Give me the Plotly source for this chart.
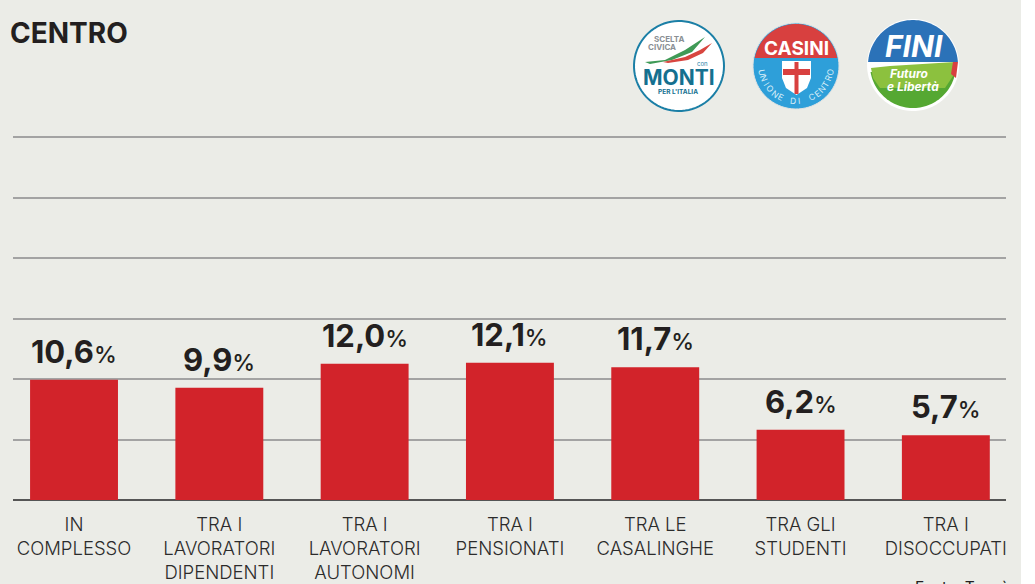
import numpy as np
import plotly.graph_objects as go

W, H = 1035, 584
categories = ["IN<br>COMPLESSO", "TRA I<br>LAVORATORI<br>DIPENDENTI", "TRA I<br>LAVORATORI<br>AUTONOMI",
              "TRA I<br>PENSIONATI", "TRA LE<br>CASALINGHE", "TRA GLI<br>STUDENTI", "TRA I<br>DISOCCUPATI"]
values = [10.6, 9.9, 12.0, 12.1, 11.7, 6.2, 5.7]
title_text = "CENTRO"
source_text = "Fonte: Tecnè"

BG = "#ebece7"
RED = "#d2232a"
FONT = "Inter"
PX_PER_UNIT = 11.35

def px(x): return x / W
def py(y): return 1 - y / H

fig = go.Figure(go.Bar(x=list(range(len(values))), y=values, marker=dict(color=RED, line_width=0),
                       width=0.605, hoverinfo="skip"))

for i, v in enumerate(values):
    lab = f"{v:.1f}".replace(".", ",")
    fig.add_annotation(x=i, y=v, xref="x", yref="y", yanchor="bottom", showarrow=False, yshift=8,
                       text=f"<b>{lab}</b><span style='font-size:23px;font-weight:500'>%</span>",
                       font=dict(family=FONT, size=31, color="#231f20"))

shapes, ann = [], []

def poly(pts, fill, line=None, lw=0):
    d = "M" + "L".join(f"{px(x):.5f},{py(y):.5f}" for x, y in pts) + "Z"
    shapes.append(dict(type="path", path=d, xref="paper", yref="paper", fillcolor=fill,
                       line=dict(color=line or fill, width=lw), layer="above"))

def disc(cx, cy, r, fill, line=None, lw=0):
    t = np.linspace(0, 2 * np.pi, 80)
    poly(list(zip(cx + r * np.cos(t), cy + r * np.sin(t))), fill, line, lw)

def cap(cx, cy, r, ycut, fill, upper=True):
    a = np.arcsin(np.clip((ycut - cy) / r, -1, 1))
    if upper:
        t = np.linspace(np.pi - a, 2 * np.pi + a, 60)
    else:
        t = np.linspace(a, np.pi - a, 60)
    poly(list(zip(cx + r * np.cos(t), cy + r * np.sin(t))), fill)

def txt(x, y, s, size, color, bold=False, italic=False, angle=0, anchor="center", fam=FONT):
    if bold: s = f"<b>{s}</b>"
    if italic: s = f"<i>{s}</i>"
    ann.append(dict(x=px(x), y=py(y), xref="paper", yref="paper", text=s, showarrow=False, textangle=angle,
                    xanchor=anchor, yanchor="middle", font=dict(family=fam, size=size, color=color)))

# white strip at the right edge of the page
shapes.append(dict(type="rect", xref="paper", yref="paper", x0=px(1021), x1=1, y0=0, y1=1,
                   fillcolor="white", line_width=0, layer="above"))

# Logo 1: Scelta Civica con Monti
cx, cy = 679, 66
disc(cx, cy, 45, "white", "#1b7fa6", 2)
poly([(645, 62), (665, 60), (685, 50), (705, 37), (692, 52), (672, 60), (650, 64)], "#3f9a56")
poly([(663, 62), (685, 57), (700, 50), (712, 43), (703, 53), (688, 60), (668, 63)], "#d8453f")
txt(669, 39, "SCELTA", 8, "#8a8f94", bold=True)
txt(662, 47, "CIVICA", 8, "#8a8f94", bold=True)
txt(702, 63, "con", 6, "#1b7fa6")
txt(679, 77, "MONTI", 21, "#15708f", bold=True)
txt(678, 92, "PER L'ITALIA", 6.5, "#15708f", bold=True)

# Logo 2: Casini UDC
cx, cy = 796, 66
disc(cx, cy, 43, "#2e9fd9", "#dfe3e3", 1)
cap(cx, cy, 42, 58, "#d8403f")
txt(cx, 48, "CASINI", 19, "white", bold=True)
sh = [(782, 61), (811, 61), (811, 78), (807, 88), (796.5, 95), (786, 88), (782, 78)]
poly(sh, "white")
poly([(794.5, 62), (798.5, 62), (798.5, 94), (794.5, 94)], "#d8403f")
poly([(783, 69), (810, 69), (810, 75), (783, 75)], "#d8403f")
letters = "UNIONE DI CENTRO"
angs = np.linspace(170, 10, len(letters))
for ch, a in zip(letters, angs):
    r = 35
    x = cx + r * np.cos(np.radians(a))
    y = cy + r * np.sin(np.radians(a))
    if ch != " ":
        txt(x, y, ch, 8.5, "#d9eef8", angle=a - 90)

# Logo 3: Futuro e Liberta
cx, cy = 913, 65
disc(cx, cy, 46, "white")
cap(cx, cy, 45, 62, "#2b72b8")
cap(cx, cy, 43, 72, "#55a832", upper=False)
poly([(871, 68), (890, 66), (955, 62), (953, 76), (945, 88), (880, 88), (873, 78)], "#8cc13e")
poly([(953, 62), (958, 62), (956, 78), (951, 74)], "#d8403f")
txt(cx + 1, 46, "FINI", 30, "white", bold=True, italic=True)
txt(909, 74, "Futuro", 12, "white", bold=True, italic=True)
txt(913, 86, "e Libertà", 12, "white", bold=True, italic=True)

# Title and source
txt(8, 33, title_text, 28, "#231f20", bold=True, anchor="left")
ann.append(dict(x=px(913), y=py(576), xref="paper", yref="paper", text=source_text, showarrow=False,
                xanchor="left", yanchor="top", font=dict(family=FONT, size=15.5, color="#231f20")))

for a in ann:
    fig.add_annotation(**a)

fig.update_layout(
    width=W, height=H, margin=dict(l=0, r=0, t=0, b=0), autosize=False,
    paper_bgcolor=BG, plot_bgcolor=BG, showlegend=False, shapes=shapes,
    xaxis=dict(domain=[px(13), px(1006)], range=[-0.42, 6.414], tickmode="array",
               tickvals=list(range(len(categories))), ticktext=categories, showgrid=False,
               ticks="", showline=False, zeroline=False, fixedrange=True, ticklabelstandoff=11,
               tickfont=dict(family=FONT, size=18.5, color="#2b2b2b", weight=300)),
    yaxis=dict(domain=[py(500), py(127)], range=[0, 373 / PX_PER_UNIT], tick0=0, dtick=60.5 / PX_PER_UNIT,
               showticklabels=False, showgrid=True, gridcolor="#a3a3a3", gridwidth=1.5,
               zeroline=True, zerolinecolor="#555555", zerolinewidth=2, ticks="", fixedrange=True),
)

fig.write_html("out.html", config=dict(displayModeBar=False),
               post_script="document.body.style.margin='0';document.body.style.overflow='hidden';")
